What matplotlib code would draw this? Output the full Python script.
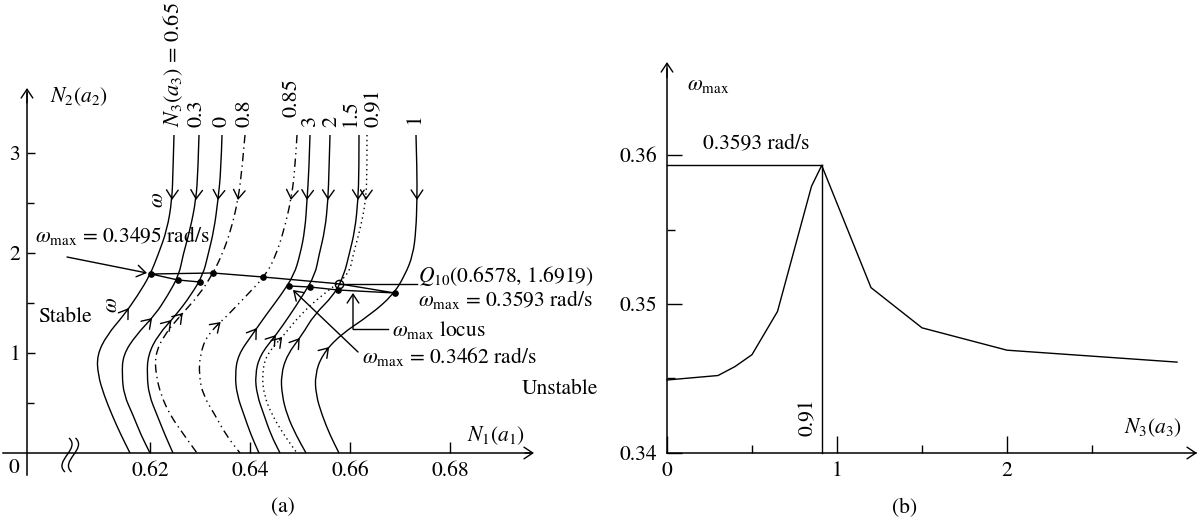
import numpy as np
import matplotlib
matplotlib.use('Agg')
import matplotlib.pyplot as plt
from matplotlib.path import Path
from matplotlib.patches import PathPatch

plt.rcParams['font.family'] = ['STIXGeneral', 'DejaVu Serif']
plt.rcParams['mathtext.fontset'] = 'stix'
plt.rcParams['font.size'] = 15.5

# ---- (a) N1-N2 plane: curves for different N3(a3) ----
n2_levels = [3.18, 2.83, 2.53, 2.23, 1.98, 1.78, 1.58, 1.38, 1.18, 0.98, 0.78, 0.58, 0.38, 0.18, 0.0]
curve_labels = ['0.65', '0.3', '0', '0.8', '0.85', '3', '2', '0.91', '1.5', '1']
curve_n1 = [
    [0.6248, 0.6246, 0.6244, 0.6234, 0.6216, 0.6200, 0.6176, 0.6148, 0.6114, 0.6094, 0.6096, 0.6108, 0.6124, 0.6142, 0.6160],
    [0.6298, 0.6296, 0.6292, 0.6280, 0.6266, 0.6258, 0.6236, 0.6210, 0.6172, 0.6146, 0.6144, 0.6148, 0.6166, 0.6182, 0.6200],
    [0.6344, 0.6342, 0.6336, 0.6328, 0.6316, 0.6306, 0.6282, 0.6252, 0.6216, 0.6196, 0.6194, 0.6198, 0.6214, 0.6230, 0.6246],
    [0.6390, 0.6384, 0.6376, 0.6362, 0.6344, 0.6324, 0.6298, 0.6262, 0.6228, 0.6210, 0.6212, 0.6222, 0.6240, 0.6268, 0.6294],
    [0.6494, 0.6490, 0.6482, 0.6468, 0.6452, 0.6432, 0.6394, 0.6356, 0.6314, 0.6300, 0.6298, 0.6306, 0.6330, 0.6352, 0.6380],
    [0.6520, 0.6518, 0.6514, 0.6510, 0.6500, 0.6488, 0.6462, 0.6432, 0.6404, 0.6376, 0.6370, 0.6374, 0.6388, 0.6402, 0.6418],
    [0.6560, 0.6558, 0.6556, 0.6550, 0.6538, 0.6530, 0.6506, 0.6480, 0.6452, 0.6420, 0.6410, 0.6414, 0.6428, 0.6442, 0.6460],
    [0.6634, 0.6634, 0.6632, 0.6620, 0.6606, 0.6598, 0.6544, 0.6500, 0.6468, 0.6432, 0.6424, 0.6428, 0.6444, 0.6468, 0.6494],
    [0.6618, 0.6618, 0.6616, 0.6610, 0.6598, 0.6588, 0.6568, 0.6528, 0.6504, 0.6474, 0.6462, 0.6464, 0.6474, 0.6492, 0.6512],
    [0.6732, 0.6734, 0.6734, 0.6732, 0.6726, 0.6710, 0.6686, 0.6640, 0.6580, 0.6544, 0.6530, 0.6532, 0.6544, 0.6560, 0.6578],
]
# N2 where the upward arrow sits on each curve
up_arrow_n2 = [1.45, 1.35, 1.33, 1.40, 1.31, 1.25, 1.18, 1.16, 1.15, 1.06]

# omega_max locus, in order of N3
locus_n3 = [0, 0.3, 0.65, 0.8, 0.85, 0.91, 1, 1.5, 2, 3]
locus_n1 = [0.6300, 0.6256, 0.6202, 0.6326, 0.6426, 0.6578, 0.6690, 0.6576, 0.6520, 0.6478]
locus_n2 = [1.71, 1.73, 1.79, 1.80, 1.76, 1.6919, 1.60, 1.63, 1.66, 1.67]

# ---- (b) omega_max vs N3 ----
n3 = [0, 0.3, 0.4, 0.5, 0.65, 0.85, 0.91, 1.2, 1.5, 2, 3]
wmax = [0.3449, 0.3452, 0.3458, 0.3466, 0.3495, 0.3579, 0.3593, 0.3511, 0.3484, 0.3469, 0.3461]

styles = ['-', '-', '-', (0, (6, 3, 1, 3)), (0, (6, 3, 1, 3, 1, 3)), '-', '-', (0, (1, 2.5)), '-', '-']
label_x = [0.6246, 0.6294, 0.6344, 0.6390, 0.6484, 0.6520, 0.6562, 0.6648, 0.6602, 0.6730]
label_y = [3.26, 3.26, 3.26, 3.26, 3.36, 3.26, 3.26, 3.26, 3.26, 3.29]

LW = 1.0
AST = '->,head_length=0.45,head_width=0.3'


def chevron(ax, tip, tail):
    ax.annotate('', xy=tip, xytext=tail,
                arrowprops=dict(arrowstyle=AST, lw=LW, color='k',
                                shrinkA=0, shrinkB=0, mutation_scale=14))


def smooth_path(x, y):
    # quadratic pieces through the midpoints, the read points act as control points
    verts = [(x[0], y[0])]
    codes = [Path.MOVETO]
    for i in range(1, len(x) - 1):
        verts += [(x[i], y[i]), ((x[i] + x[i + 1]) / 2, (y[i] + y[i + 1]) / 2)]
        codes += [Path.CURVE3, Path.CURVE3]
    verts.append((x[-1], y[-1]))
    codes.append(Path.LINETO)
    return Path(verts, codes)


def setup_axes(ax):
    ax.patch.set_visible(False)
    for s in ['top', 'right']:
        ax.spines[s].set_visible(False)
    for s in ['left', 'bottom']:
        ax.spines[s].set_linewidth(1.1)
    ax.tick_params(which='both', direction='in', width=1.0, labelsize=15.5)


fig = plt.figure(figsize=(12.02, 5.22), dpi=100)

# ================= (a) =================
ax1 = fig.add_axes([0, 0, 0.5, 1])
ax1.set_xlim(0.59, 0.7102)
ax1.set_ylim(-0.69, 4.53)
setup_axes(ax1)
ax1.spines['left'].set_position(('data', 0.5954))
ax1.spines['bottom'].set_position(('data', 0))
ax1.spines['left'].set_bounds(-0.22, 3.6)
ax1.spines['bottom'].set_bounds(0.5906, 0.696)
ax1.set_xticks([0.62, 0.64, 0.66, 0.68])
ax1.set_xticklabels(['0.62', '0.64', '0.66', '0.68'])
ax1.set_yticks([1, 2, 3])
ax1.set_yticklabels(['1', '2', '3'])
ax1.set_yticks([0.5, 1.5, 2.5], minor=True)
ax1.tick_params(axis='x', which='major', length=8, pad=6)
ax1.tick_params(axis='y', which='major', length=6, pad=5)
ax1.tick_params(axis='y', which='minor', length=5)
chevron(ax1, (0.5954, 3.65), (0.5954, 3.5))
chevron(ax1, (0.6968, 0), (0.6950, 0))

lev = np.array(n2_levels)
for n1, ls, lab, lx, ly, ua in zip(curve_n1, styles, curve_labels, label_x, label_y, up_arrow_n2):
    n1 = np.array(n1)
    ax1.add_patch(PathPatch(smooth_path(n1, lev), fc='none', ec='k', lw=LW, ls=ls))
    xi = lambda y: np.interp(y, lev[::-1], n1[::-1])
    chevron(ax1, (xi(2.53), 2.53), (xi(2.56), 2.56))
    chevron(ax1, (xi(ua), ua), (xi(ua - 0.03), ua - 0.03))
    txt = r'$N_3(a_3)$ = ' + lab if lab == '0.65' else lab
    ax1.text(lx, ly, txt, rotation=90, ha='center', va='bottom', fontsize=16)

# locus
ax1.plot(locus_n1, locus_n2, color='k', lw=LW)
for a, b, c in zip(locus_n1, locus_n2, locus_n3):
    if c == 0.91:
        ax1.plot(a, b, 'o', ms=6, mfc='none', mec='k', mew=1.0)
    else:
        ax1.plot(a, b, 'o', ms=3.8, color='k')

# break mark on the N1 axis
for dx in [0, 0.0013]:
    verts = [(0.6038 + dx, 0.15), (0.6062 + dx, 0.04), (0.6006 + dx, -0.08), (0.6030 + dx, -0.19)]
    ax1.add_patch(PathPatch(Path(verts, [Path.MOVETO, Path.CURVE4, Path.CURVE4, Path.CURVE4]),
                            fc='none', ec='k', lw=LW))

ax1.text(0.5928, -0.15, '0', ha='center', va='center')
ax1.text(0.600, 3.56, r'$N_2(a_2)$', ha='left', va='center')
ax1.text(0.6892, 0.17, r'$N_1(a_1)$', ha='center', va='center')
ax1.text(0.6216, 2.53, r'$\omega$', rotation=90, ha='center', va='center')
ax1.text(0.6124, 1.48, r'$\omega$', rotation=90, ha='center', va='center')
ax1.text(0.5970, 2.18, r'$\omega_{\rm max}$ = 0.3495 rad/s', ha='left', va='center')
chevron(ax1, (0.6194, 1.80), (0.6034, 1.96))
ax1.text(0.6030, 1.36, 'Stable', ha='center', va='center')
ax1.plot([locus_n1[5], 0.6734], [locus_n2[5], locus_n2[5]], color='k', lw=LW)
ax1.text(0.6736, 1.77, r'$Q_{10}$(0.6578, 1.6919)', ha='left', va='center')
ax1.text(0.6736, 1.54, r'$\omega_{\rm max}$ = 0.3593 rad/s', ha='left', va='center')
ax1.plot([0.6676, 0.6606], [1.24, 1.24], color='k', lw=LW)
chevron(ax1, (0.6606, 1.60), (0.6606, 1.24))
ax1.text(0.6684, 1.23, r'$\omega_{\rm max}$ locus', ha='left', va='center')
chevron(ax1, (0.6486, 1.63), (0.6616, 1.01))
ax1.text(0.6624, 0.96, r'$\omega_{\rm max}$ = 0.3462 rad/s', ha='left', va='center')
ax1.text(0.7020, 0.64, 'Unstable', ha='center', va='center')
ax1.text(0.6466, -0.54, '(a)', ha='center', va='center')

# ================= (b) =================
ax2 = fig.add_axes([0.5, 0, 0.5, 1])
ax2.set_xlim(-0.38824, 3.14706)
ax2.set_ylim(0.335369, 0.370403)
setup_axes(ax2)
ax2.spines['left'].set_position(('data', 0))
ax2.spines['bottom'].set_position(('data', 0.34))
ax2.spines['left'].set_bounds(0.34, 0.3658)
ax2.spines['bottom'].set_bounds(0, 3.11)
ax2.set_xticks([0, 1, 2])
ax2.set_xticklabels(['0', '1', '2'])
ax2.set_xticks([0.5, 1.5, 2.5], minor=True)
ax2.set_yticks([0.34, 0.35, 0.36])
ax2.set_yticklabels(['0.34', '0.35', '0.36'])
ax2.set_yticks([0.345, 0.355], minor=True)
ax2.tick_params(axis='x', which='major', length=12, pad=6)
ax2.tick_params(axis='x', which='minor', length=6)
ax2.tick_params(axis='y', which='major', length=11, pad=7)
ax2.tick_params(axis='y', which='minor', length=6)
chevron(ax2, (0, 0.36624), (0, 0.3652))
chevron(ax2, (3.1176, 0.34), (3.10, 0.34))

ax2.plot(n3, wmax, color='k', lw=LW)
ip = int(np.argmax(wmax))
ax2.plot([0, n3[ip]], [wmax[ip], wmax[ip]], color='k', lw=LW)
ax2.plot([n3[ip], n3[ip]], [0.34, wmax[ip]], color='k', lw=LW)
ax2.text(0.1176, 0.3647, r'$\omega_{\rm max}$', ha='left', va='center')
ax2.text(0.21, 0.3608, '0.3593 rad/s', ha='left', va='center')
ax2.text(0.829, 0.3424, '0.91', rotation=90, ha='center', va='center')
ax2.text(2.859, 0.3417, r'$N_3(a_3)$', ha='center', va='center')
ax2.text(1.40, 0.3363, '(b)', ha='center', va='center')

fig.savefig('out.png', dpi=100)
